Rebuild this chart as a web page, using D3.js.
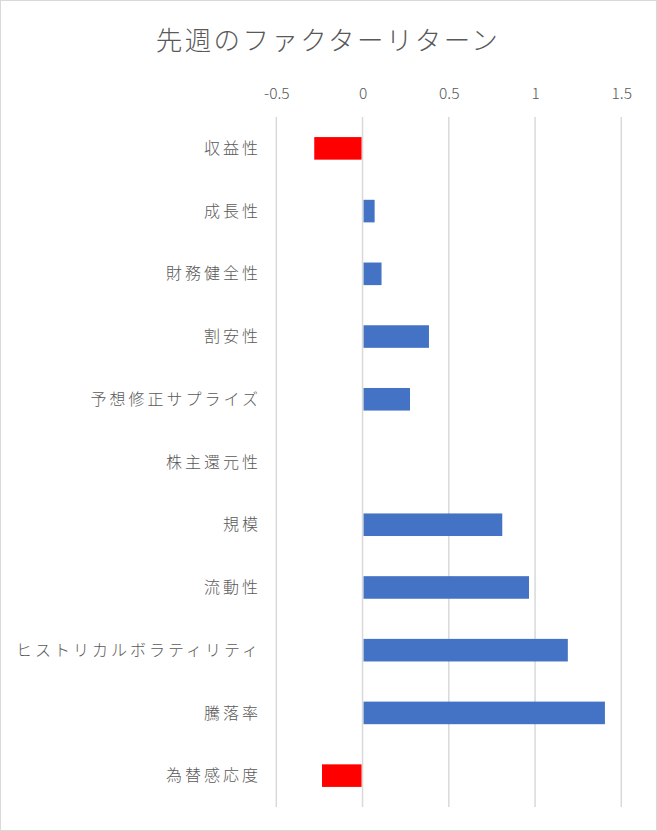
<!DOCTYPE html>
<html>
<head>
<meta charset="utf-8">
<script src="https://cdn.jsdelivr.net/npm/d3@7"></script>
<style>
body { margin: 0; background: #fff; }
text { font-family: "Noto Sans CJK JP", "Noto Sans", sans-serif; fill: #595959; font-weight: 300; }
</style>
</head>
<body>
<svg></svg>
<script>
var screen = {width: 657, height: 831};

var categories = ["収益性", "成長性", "財務健全性", "割安性", "予想修正サプライズ", "株主還元性",
                  "規模", "流動性", "ヒストリカルボラティリティ", "騰落率", "為替感応度"];
var returns = [-0.28, 0.07, 0.11, 0.385, 0.275, 0, 0.81, 0.965, 1.19, 1.405, -0.235];
var ticks = [-0.5, 0, 0.5, 1, 1.5];

var svg = d3.select("svg")
    .attr("width", screen.width)
    .attr("height", screen.height);

svg.append("rect")
    .attr("x", 0.5).attr("y", 0.5)
    .attr("width", screen.width - 1).attr("height", screen.height - 1)
    .attr("fill", "#fff")
    .attr("stroke", "#d9d9d9");

svg.append("text")
    .attr("x", 328)
    .attr("y", 50)
    .attr("text-anchor", "middle")
    .style("font-size", "26.5px")
    .style("letter-spacing", "2.4px")
    .text("先週のファクターリターン");

var xScale = d3.scaleLinear().domain([-0.5, 1.5]).range([276.3, 621.3]);
var yScale = d3.scaleBand().domain(categories).range([117, 807]).paddingInner(0.64).paddingOuter(0.32);

// grid lines
svg.append("g").selectAll("line")
    .data(ticks)
    .enter()
    .append("line")
    .attr("x1", function(d){ return xScale(d); })
    .attr("x2", function(d){ return xScale(d); })
    .attr("y1", 117)
    .attr("y2", 807)
    .attr("stroke", "#d9d9d9")
    .attr("stroke-width", 1.5);

var xAxis = d3.axisTop(xScale).tickValues(ticks).tickSize(0).tickPadding(0)
    .tickFormat(function(d){ return String(d); });

svg.append("g")
    .attr("transform", "translate(0, 99)")
    .call(xAxis)
    .call(function(g){ g.select(".domain").remove(); })
    .selectAll("text")
    .style("font-size", "15.5px")
    .attr("fill", "#595959");

svg.append("g").selectAll("rect")
    .data(returns)
    .enter()
    .append("rect")
    .attr("x", function(d){ return d < 0 ? xScale(d) : xScale(0) + 1; })
    .attr("y", function(d, i){ return yScale(categories[i]); })
    .attr("width", function(d){ return Math.max(0, Math.abs(xScale(d) - xScale(0)) - 1); })
    .attr("height", yScale.bandwidth())
    .attr("fill", function(d){ return d < 0 ? "#ff0000" : "#4472c4"; });

svg.append("g").selectAll("text")
    .data(categories)
    .enter()
    .append("text")
    .attr("x", 261)
    .attr("y", function(d){ return yScale(d) + yScale.bandwidth() / 2; })
    .attr("dy", "0.35em")
    .attr("text-anchor", "end")
    .style("font-size", "16px")
    .style("letter-spacing", "3px")
    .text(function(d){ return d; });
</script>
</body>
</html>
